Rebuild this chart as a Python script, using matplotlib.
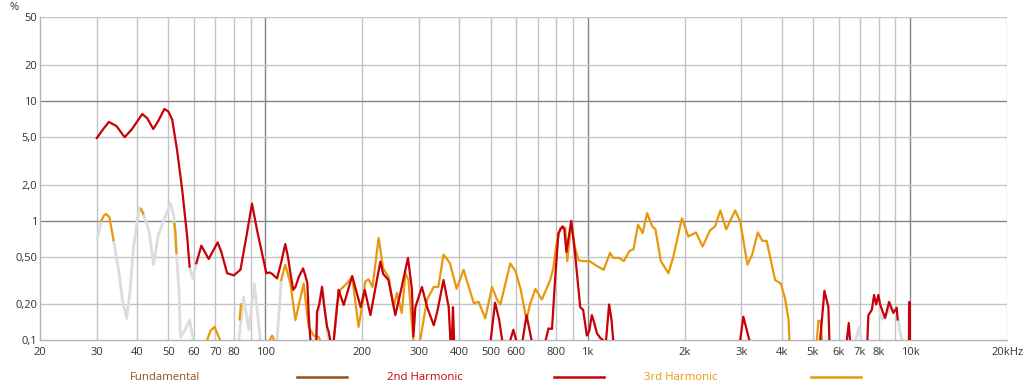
# Harmonic distortion vs frequency
import numpy as np
import matplotlib
matplotlib.use('Agg')
import matplotlib.pyplot as plt
from matplotlib.lines import Line2D

nan = np.nan

# 2nd harmonic (%), gaps = below 0.1 % / not shown
h2_freq = [30, 31.5, 32.7, 34.5, 36.6, 38.5, 41.5, 43, 44.9, 46.5, 48.6, 50, 51.4, 53.2, 55.2, 57.2, 58.2, nan,
           61.1, 63.3, 66.7, 71.1, 73, 76.1, 79.8, 83.7, 87.7, 90.9, 94.2, 100.7, 103, 105, 108.7, 112, 115.3,
           117.5, 119.6, 122, 124, 127, 130.9, 133, 135, 136.5, 138, nan,
           144, 144.6, 147, 149.9, 152, 155.4, 157, 159, nan,
           163, 168.8, 175, 185.9, 197.5, 203.4, 211.8, 227.3, 232, 241, 253, 262.4, 277, 285, 288, 292, 306,
           317.6, 333, 341.4, 357, 370.5, 375, nan,
           379, 382, 385, nan,
           500, 516, 531, 543, nan,
           575, 588, 600, nan,
           628, 646, 670, nan,
           740, 756, 775, 792, 811, 835, 846, 859, 889, 913, 948, 968, 994, 1011, 1030, 1048, 1068, 1094, 1119, nan,
           1140, 1165, 1185, 1200, nan,
           2971, 3040, 3175, nan,
           5260, 5424, 5581, 5620, nan,
           6364, 6456, 6513, nan,
           7373, 7426, 7610, 7735, 7850, 7975, 8075, 8364, 8610, 8875, 9093, 9150, nan,
           9940, 9955, 9965]
h2_pct = [4.92, 5.9, 6.7, 6.2, 5.0, 5.8, 7.8, 7.2, 5.85, 6.8, 8.6, 8.2, 7.0, 3.93, 1.82, 0.74, 0.415, nan,
          0.443, 0.62, 0.48, 0.66, 0.55, 0.365, 0.35, 0.39, 0.79, 1.39, 0.84, 0.365, 0.37, 0.36, 0.33, 0.45, 0.64,
          0.5, 0.365, 0.265, 0.28, 0.34, 0.40, 0.35, 0.30, 0.15, 0.1, nan,
          0.1, 0.174, 0.2, 0.28, 0.2, 0.13, 0.12, 0.1, nan,
          0.1, 0.265, 0.198, 0.346, 0.19, 0.265, 0.163, 0.456, 0.36, 0.32, 0.163, 0.25, 0.49, 0.265, 0.108, 0.19, 0.28,
          0.19, 0.134, 0.174, 0.32, 0.19, 0.1, nan,
          0.1, 0.19, 0.1, nan,
          0.1, 0.207, 0.15, 0.1, nan,
          0.1, 0.123, 0.1, nan,
          0.1, 0.163, 0.1, nan,
          0.1, 0.126, 0.125, 0.32, 0.79, 0.9, 0.85, 0.55, 1.0, 0.54, 0.19, 0.18, 0.11, 0.12, 0.163, 0.14, 0.115, 0.105, 0.1, nan,
          0.1, 0.2, 0.15, 0.1, nan,
          0.1, 0.158, 0.1, nan,
          0.1, 0.26, 0.19, 0.1, nan,
          0.1, 0.14, 0.1, nan,
          0.1, 0.163, 0.18, 0.24, 0.2, 0.24, 0.2, 0.154, 0.21, 0.17, 0.188, 0.15, nan,
          0.1, 0.21, 0.1]

# 3rd harmonic (%)
h3_freq = [31.0, 31.5, 32, 32.8, 33.8, nan,
           41.2, 41.8, nan,
           52.2, 52.6, 53.0, nan,
           65.9, 67.5, 69.5, 72.5, nan,
           83.2, 84, nan,
           103, 105, 106.6, nan,
           112, 115.3, 119.6, 123.9, 131.5, 136.2, 141.2, 146.3, 148, nan,
           163, 167, 170.8, 179, 186, 190.6, 194.6, 200, 204, 209, 215, 224.6, 232, 241, 250, 256, 265, 272, 278, 284, 288, nan,
           302, 317.6, 333, 344, 357, 366, 374, 392, 412, 443, 459, 481, 505, 523, 536, 575, 597, 619, 646, 662, 688,
           721, 765, 782, 798, 822, 852, 864, 889, 913, 936, 968, 1013, 1066, 1121, 1173, 1200, 1253, 1294, 1348,
           1388, 1432, 1481, 1528, 1585, 1622, 1686, 1780, 1843, 1960, 2053, 2168, 2273, 2395, 2484, 2580, 2690,
           2867, 2971, 3130, 3236, 3372, 3480, 3590, 3814, 3970, 4094, 4200, 4224, nan,
           5137, 5196, 5280, 5330]
h3_pct = [1.0, 1.1, 1.14, 1.08, 0.69, nan,
          1.25, 1.15, nan,
          0.95, 0.8, 0.54, nan,
          0.1, 0.12, 0.13, 0.1, nan,
          0.15, 0.2, nan,
          0.1, 0.11, 0.1, nan,
          0.32, 0.43, 0.3, 0.148, 0.30, 0.13, 0.11, 0.107, 0.1, nan,
          0.1, 0.2, 0.265, 0.30, 0.34, 0.2, 0.13, 0.2, 0.31, 0.325, 0.28, 0.72, 0.4, 0.34, 0.19, 0.25, 0.17, 0.365, 0.32, 0.15, 0.1, nan,
          0.1, 0.22, 0.28, 0.28, 0.52, 0.48, 0.44, 0.27, 0.39, 0.205, 0.21, 0.153, 0.28, 0.22, 0.2, 0.44, 0.38, 0.27, 0.148, 0.2, 0.27,
          0.22, 0.32, 0.4, 0.61, 0.87, 0.88, 0.46, 0.96, 0.6, 0.47, 0.46, 0.46, 0.42, 0.39, 0.54, 0.49, 0.49, 0.46, 0.56,
          0.58, 0.93, 0.79, 1.16, 0.9, 0.85, 0.46, 0.365, 0.5, 1.05, 0.74, 0.8, 0.61, 0.83, 0.9, 1.22, 0.85,
          1.22, 0.99, 0.43, 0.52, 0.8, 0.68, 0.68, 0.32, 0.30, 0.225, 0.148, 0.1, nan,
          0.1, 0.146, 0.146, 0.1]

# unreliable (noise limited) parts, drawn grey
grey_freq = [30, 31, nan,
             33.8, 35, 36, 37.1, 38, 39, 40, 40.8, 42, 43.5, 45, 46.5, 48, 50.7, 52, 53, 54, 54.5, 56.1, 58.2, 59.9, nan,
             58.2, 59.5, 61.1, nan,
             82.7, 85.6, 88.8, 92.4, 95, 96.5, nan,
             108.7, 111.3, 112, nan,
             143, 147, 150, 153, 156, 158, nan,
             6780, 6950, 7050, nan,
             8000, 8200, 8400, 8700, 9000, 9150, 9300, 9450, nan,
             9880, 9930, 9950]
grey_pct = [0.69, 1.0, nan,
            0.69, 0.4, 0.22, 0.153, 0.25, 0.6, 1.0, 1.29, 1.1, 0.84, 0.43, 0.75, 0.95, 1.4, 1.1, 0.54, 0.25, 0.107, 0.12, 0.148, 0.1, nan,
            0.415, 0.33, 0.443, nan,
            0.1, 0.23, 0.123, 0.295, 0.15, 0.1, nan,
            0.1, 0.25, 0.32, nan,
            0.1, 0.2, 0.28, 0.18, 0.11, 0.1, nan,
            0.1, 0.13, 0.1, nan,
            0.18, 0.15, 0.16, 0.19, 0.17, 0.16, 0.12, 0.1, nan,
            0.1, 0.18, 0.21]

x_ticks = [20, 30, 40, 50, 60, 70, 80, 100, 200, 300, 400, 500, 600, 800, 1000,
           2000, 3000, 4000, 5000, 6000, 7000, 8000, 10000, 20000]
x_labels = ['20', '30', '40', '50', '60', '70', '80', '100', '200', '300', '400', '500', '600', '800', '1k',
            '2k', '3k', '4k', '5k', '6k', '7k', '8k', '10k', '20kHz']
y_ticks = [0.1, 0.2, 0.5, 1, 2, 5, 10, 20, 50]
y_labels = ['0,1', '0,20', '0,50', '1', '2,0', '5,0', '10', '20', '50']

C_FUND = '#94501e'
C_H2 = '#c8000a'
C_H3 = '#e8980a'
C_GREY = '#dcdcdc'

plt.rcParams['font.family'] = ['Open Sans', 'DejaVu Sans']

fig = plt.figure(figsize=(10.27, 3.92), dpi=100)
ax = fig.add_axes([0.0390, 0.1314, 0.9416, 0.824])
ax.set_xscale('log')
ax.set_yscale('log')
ax.set_xlim(20, 20000)
ax.set_ylim(0.1, 50)

# grid
minor_x = [30, 40, 50, 60, 70, 80, 90, 200, 300, 400, 500, 600, 700, 800, 900,
           2000, 3000, 4000, 5000, 6000, 7000, 8000, 9000, 20000]
for f in minor_x:
    ax.axvline(f, color='#c4c4c4', lw=1.0, zorder=0)
for f in [100, 1000, 10000]:
    ax.axvline(f, color='#858585', lw=1.0, zorder=0)
for v in [0.2, 0.5, 2, 5, 20, 50]:
    ax.axhline(v, color='#c4c4c4', lw=1.0, zorder=0)
for v in [1, 10]:
    ax.axhline(v, color='#858585', lw=1.0, zorder=0)

ax.plot(grey_freq, grey_pct, color=C_GREY, lw=2.0, zorder=2,
        solid_capstyle='round', solid_joinstyle='round')
ax.plot(h3_freq, h3_pct, color=C_H3, lw=1.6, zorder=3, solid_joinstyle='round')
ax.plot(h2_freq, h2_pct, color=C_H2, lw=1.6, zorder=4, solid_joinstyle='round')

for s in ['top', 'right']:
    ax.spines[s].set_visible(False)
for s in ['left', 'bottom']:
    ax.spines[s].set_color('#b4b4b4')
    ax.spines[s].set_linewidth(1.0)

ax.xaxis.set_minor_locator(matplotlib.ticker.NullLocator())
ax.yaxis.set_minor_locator(matplotlib.ticker.NullLocator())
ax.set_xticks(x_ticks)
ax.set_xticklabels(x_labels)
ax.set_yticks(y_ticks)
ax.set_yticklabels(y_labels)
ax.tick_params(length=0, labelsize=8, colors='#333333')
ax.tick_params(axis='x', pad=5)
ax.tick_params(axis='y', pad=2)

fig.text(14 / 1027, 1 - 8 / 392, '%', ha='center', va='center', fontsize=8, color='#333333')

# legend along the bottom
leg = [('Fundamental', C_FUND, 130, 297),
       ('2nd Harmonic', C_H2, 387, 554),
       ('3rd Harmonic', C_H3, 644, 811)]
ly = 1 - 377 / 392
for name, col, tx, lx in leg:
    fig.text(tx / 1027, ly, name, color=col, fontsize=8.2, ha='left', va='center')
    fig.add_artist(Line2D([lx / 1027, (lx + 50) / 1027], [ly, ly], color=col, lw=1.8,
                          transform=fig.transFigure))

fig.savefig('out.png', dpi=100)
